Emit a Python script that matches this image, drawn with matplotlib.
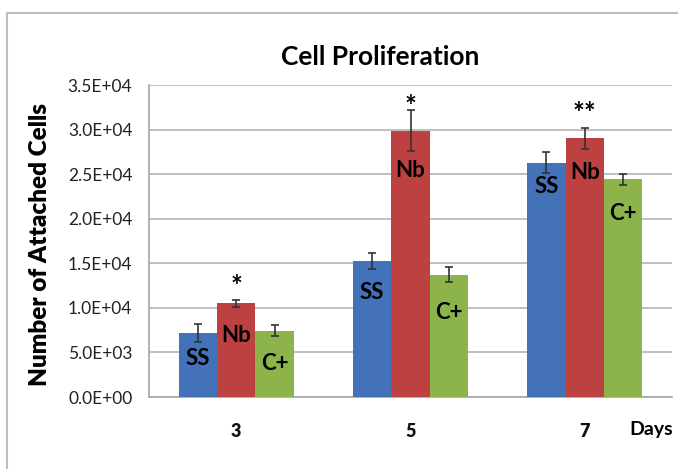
import matplotlib
matplotlib.use("Agg")
import matplotlib.pyplot as plt
import numpy as np
from matplotlib.lines import Line2D

days = ["3", "5", "7"]
series = ["SS", "Nb", "C+"]
ss_vals = [7150, 15250, 26300]
nb_vals = [10500, 29850, 29000]
cp_vals = [7450, 13700, 24400]
ss_err = [1000, 850, 1150]
nb_err = [400, 2300, 1200]
cp_err = [600, 850, 600]
stars = ["*", "*", "**"]
yticks = [0, 5000, 10000, 15000, 20000, 25000, 30000, 35000]
ytick_labels = ["0.0E+00", "5.0E+03", "1.0E+04", "1.5E+04", "2.0E+04",
                "2.5E+04", "3.0E+04", "3.5E+04"]

colors = ["#4372B8", "#BE4141", "#8DB44A"]
values = [ss_vals, nb_vals, cp_vals]
errs = [ss_err, nb_err, cp_err]
# label offsets below bar top (data units), per day group then series
label_drop = [[2780, 3550, 3640], [3580, 4400, 4170], [2740, 3870, 3760]]
star_gap = [1450, 350, 1550]

plt.rcParams['font.family'] = ['Lato', 'DejaVu Sans']

fig = plt.figure(figsize=(6.78, 4.69), dpi=100)
fig.lines.append(Line2D([7 / 678, 7 / 678], [0, 1 - 13 / 469],
                        transform=fig.transFigure, color="#BDBDBD", linewidth=1.5))
fig.lines.append(Line2D([7 / 678, 1], [1 - 13 / 469, 1 - 13 / 469],
                        transform=fig.transFigure, color="#BDBDBD", linewidth=1.5))
ax = fig.add_axes([149 / 678, 1 - 397 / 469, (672 - 149) / 678, (397 - 85) / 469])

x = np.arange(len(days))
w = 0.22
for i in range(3):
    xs = x + (i - 1) * w
    ax.bar(xs, values[i], width=w, color=colors[i], zorder=3)
    ax.errorbar(xs, values[i], yerr=errs[i], fmt="none", ecolor="#333333",
                elinewidth=1.2, capsize=3, capthick=1.2, zorder=4)
    for j in range(3):
        ax.text(xs[j], values[i][j] - label_drop[j][i], series[i],
                ha="center", va="center", fontsize=16, fontweight="bold",
                color="black", zorder=5)

for j in range(3):
    top = nb_vals[j] + nb_err[j]
    ax.text(x[j], top + star_gap[j], stars[j], ha="center", va="center",
            fontsize=20, fontweight="bold", color="black", zorder=5)

ax.set_ylim(0, 35000)
ax.set_xlim(-0.5, 2.5)
ax.set_yticks(yticks)
ax.set_yticklabels(ytick_labels, fontsize=12.5)
ax.set_xticks(x)
ax.set_xticklabels(days, fontsize=13, fontweight="heavy")
ax.tick_params(axis="y", length=0, pad=12, colors="#222222")
ax.tick_params(axis="x", length=0, pad=19, colors="#111111")
ax.grid(axis="y", color="#BFBFBF", linewidth=1.4, zorder=0)
ax.set_axisbelow(True)
for s in ["top", "right"]:
    ax.spines[s].set_visible(False)
for s in ["left", "bottom"]:
    ax.spines[s].set_color("#A6A6A6")
    ax.spines[s].set_linewidth(1.2)

fig.text(380 / 678, 1 - 57 / 469, "Cell Proliferation", ha="center", va="center",
         fontsize=19, fontweight="bold")
fig.text(40 / 678, 1 - 245 / 469, "Number of Attached Cells", ha="center",
         va="center", rotation=90, fontsize=17.5, fontweight="heavy")
fig.text(651 / 678, 1 - 429 / 469, "Days", ha="center", va="center",
         fontsize=14, fontweight="bold")

fig.savefig("out.png", dpi=100)
